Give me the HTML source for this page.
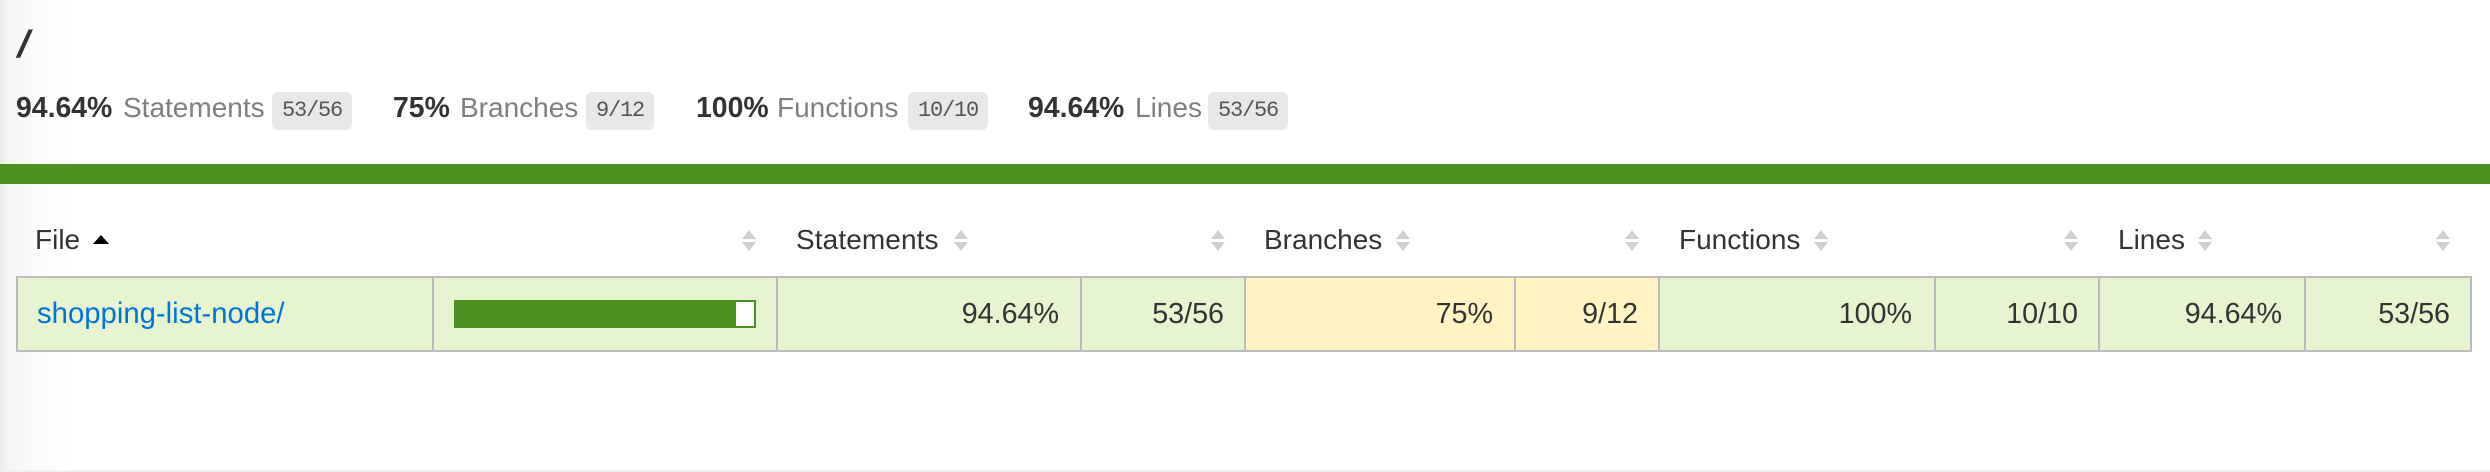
<!DOCTYPE html>
<html lang="en">
<head>
<meta charset="utf-8">
<title>Code coverage report for /</title>
<style>
html,body{margin:0;padding:0;background:#fff}
body{position:relative;width:2490px;height:472px;overflow:hidden;font-family:"Liberation Sans",Arial,sans-serif;color:#333}
.abs,.t,.badge,.cell,.up,.dn,.sort-black{position:absolute}
.t{font-size:28px;line-height:32px;white-space:nowrap}
.b{font-weight:700;font-size:28.4px}
.q{color:#7f7f7f}
.badge{top:92px;height:38px;background:#e8e8e8;border-radius:6px;font-family:"Liberation Mono",monospace;font-size:22px;letter-spacing:-1.2px;line-height:38px;text-align:center;color:#555}
.cell{top:278px;height:72px;box-sizing:border-box}
.g{background:#e6f5d0}
.y{background:#fff4c2}
.r{text-align:right;top:298px;font-size:28.7px}
.up,.dn{width:0;height:0;border-left:7.5px solid transparent;border-right:7.5px solid transparent}
.up{top:230px;border-bottom:9px solid #cfcfcf}
.dn{top:242px;border-top:9px solid #cfcfcf}
</style>
</head>
<body>
<div class="abs" style="left:0;top:0;width:72px;height:472px;background:linear-gradient(to right,#ececec 0,#f5f5f5 8px,#fbfbfb 36px,#fff 72px)"></div>
<div class="abs" style="left:0;top:470px;width:2490px;height:2px;background:#f0f0f0"></div>

<h1 class="t b" style="margin:0;left:18px;top:21px;font-size:38px;line-height:48px;font-style:italic;transform:skewX(-4deg)">/</h1>

<div class="t b" style="left:16px;top:92px">94.64%</div>
<div class="t q" style="left:123px;top:92px">Statements</div>
<div class="badge" style="left:272px;width:80px">53/56</div>

<div class="t b" style="left:393px;top:92px">75%</div>
<div class="t q" style="left:460px;top:92px">Branches</div>
<div class="badge" style="left:586px;width:68px">9/12</div>

<div class="t b" style="left:696px;top:92px">100%</div>
<div class="t q" style="left:777px;top:92px">Functions</div>
<div class="badge" style="left:908px;width:80px">10/10</div>

<div class="t b" style="left:1028px;top:92px">94.64%</div>
<div class="t q" style="left:1135px;top:92px">Lines</div>
<div class="badge" style="left:1208px;width:80px">53/56</div>

<div class="abs" style="left:0;top:164px;width:2490px;height:20px;background:#4d9221"></div>

<!-- header -->
<div class="t" style="left:35px;top:224px">File</div>
<div class="abs" style="left:93px;top:235px;width:0;height:0;border-left:8px solid transparent;border-right:8px solid transparent;border-bottom:9px solid #000"></div>
<div class="up" style="left:741.5px"></div><div class="dn" style="left:741.5px"></div>

<div class="t" style="left:796px;top:224px;letter-spacing:.1px">Statements</div>
<div class="up" style="left:953.5px"></div><div class="dn" style="left:953.5px"></div>
<div class="up" style="left:1210.5px"></div><div class="dn" style="left:1210.5px"></div>

<div class="t" style="left:1264px;top:224px">Branches</div>
<div class="up" style="left:1395.5px"></div><div class="dn" style="left:1395.5px"></div>
<div class="up" style="left:1624.5px"></div><div class="dn" style="left:1624.5px"></div>

<div class="t" style="left:1679px;top:224px">Functions</div>
<div class="up" style="left:1813.5px"></div><div class="dn" style="left:1813.5px"></div>
<div class="up" style="left:2063.5px"></div><div class="dn" style="left:2063.5px"></div>

<div class="t" style="left:2118px;top:224px">Lines</div>
<div class="up" style="left:2197.5px"></div><div class="dn" style="left:2197.5px"></div>
<div class="up" style="left:2435.5px"></div><div class="dn" style="left:2435.5px"></div>

<!-- row -->
<div class="abs" style="left:16px;top:276px;width:2456px;height:76px;background:#bbb"></div>
<div class="cell g" style="left:18px;width:414px"></div>
<div class="cell g" style="left:434px;width:342px"></div>
<div class="cell g" style="left:778px;width:302px"></div>
<div class="cell g" style="left:1082px;width:162px"></div>
<div class="cell y" style="left:1246px;width:268px"></div>
<div class="cell y" style="left:1516px;width:142px"></div>
<div class="cell g" style="left:1660px;width:274px"></div>
<div class="cell g" style="left:1936px;width:162px"></div>
<div class="cell g" style="left:2100px;width:204px"></div>
<div class="cell g" style="left:2306px;width:164px"></div>

<a class="t" style="left:37px;top:298px;font-size:29.3px;color:#0074d9;text-decoration:none">shopping-list-node/</a>

<div class="abs" style="left:454px;top:300px;width:302px;height:28px;background:#4d9221"></div>
<div class="abs" style="left:736px;top:302px;width:18px;height:24px;background:#fff"></div>

<div class="t r" style="right:1431px">94.64%</div>
<div class="t r" style="right:1266px">53/56</div>
<div class="t r" style="right:997px">75%</div>
<div class="t r" style="right:852px">9/12</div>
<div class="t r" style="right:578px">100%</div>
<div class="t r" style="right:412px">10/10</div>
<div class="t r" style="right:208px">94.64%</div>
<div class="t r" style="right:40px">53/56</div>
</body>
</html>
